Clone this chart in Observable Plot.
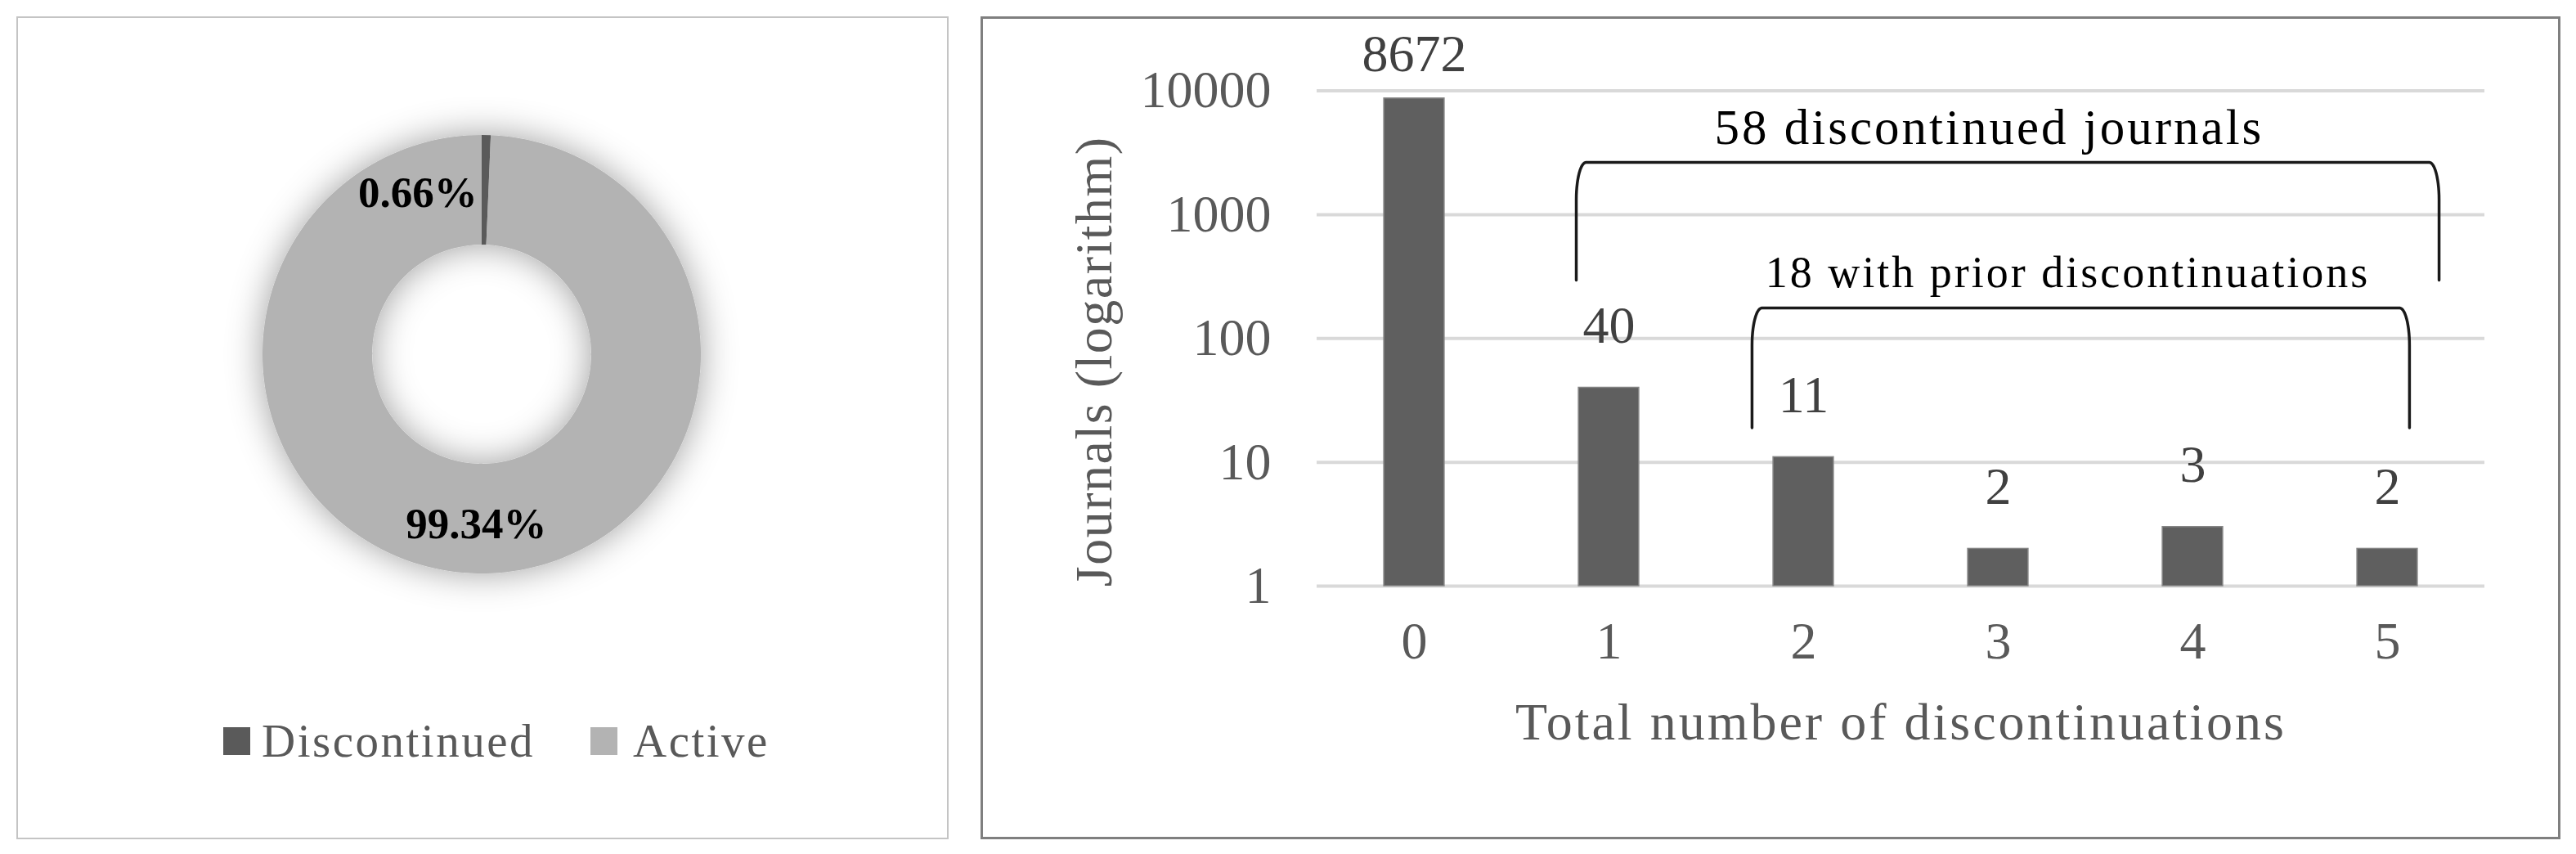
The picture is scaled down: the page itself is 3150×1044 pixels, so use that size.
<!DOCTYPE html>
<html>
<head>
<meta charset="utf-8">
<script src="https://cdn.jsdelivr.net/npm/d3@7"></script>
<script src="https://cdn.jsdelivr.net/npm/@observablehq/plot@0.6"></script>
<style>
  html, body { margin: 0; padding: 0; background: #fff; }
  body { width: 3150px; height: 1044px; position: relative; overflow: hidden;
         font-family: "Palatino Linotype", "Book Antiqua", Palatino, "Liberation Serif", serif; }
  .panel { position: absolute; box-sizing: border-box; }
  #leftPanel { left: 20px; top: 20px; width: 1140px; height: 1006px; border: 2px solid #c4c4c4; }
  #rightPanel { left: 1199px; top: 20px; width: 1932px; height: 1006px; border: 3px solid #7f7f7f; }
  .chart { position: absolute; }
  #donutChart { left: 20px; top: 22px; }
  #barChart { left: 1200px; top: 22px; }
  #legend { position: absolute; left: 273px; top: 877px; height: 57px; display: flex; align-items: center;
            font-size: 57px; line-height: 57px; color: #595959; letter-spacing: 2.5px; white-space: nowrap; }
  .sw { display: inline-block; width: 33px; height: 34px; }
</style>
</head>
<body>
<div id="leftPanel" class="panel"></div>
<div id="rightPanel" class="panel"></div>
<div id="donutChart" class="chart"></div>
<div id="barChart" class="chart"></div>
<div id="legend"></div>
<script>
// ---------- data ----------
const donutCategories = ["Discontinued", "Active"];
const donutShares = [0.66, 99.34];

const barCategories = [0, 1, 2, 3, 4, 5];
const barCounts = [8672, 40, 11, 2, 3, 2];
const yTicks = [1, 10, 100, 1000, 10000];

const bracketLabels = ["58 discontinued journals", "18 with prior discontinuations"];
const bracketFrom = [1, 2];
const bracketTo = [5, 5];

const xTitle = "Total number of discontinuations";
const yTitle = "Journals (logarithm)";

// ---------- styles / layout ----------
const FONT = '"Palatino Linotype","Book Antiqua",Palatino,"Liberation Serif",serif';
const donutColors = ["#5a5a5a", "#b3b3b3"];
const innerRatio = 0.5;
const barHalf = 0.155;
const bracketLayout = [
  {left: -0.168, right: 0.265, top: 2640, bottom: 296, textShift: -0.095, dy: -23, fontSize: 61},
  {left: -0.265, right: 0.113, top: 176, bottom: 19, textShift: -0.067, dy: -26, fontSize: 54}
];

// ---------- donut ----------
const donutTable = donutCategories.map((c, i) => ({category: c, share: donutShares[i]}));
const pie = d3.pie().sort(null).value(d => d.share)(donutTable);
const rMid = (1 + innerRatio) / 2;
const labelTable = pie.map((p, i) => {
  const a = (p.startAngle + p.endAngle) / 2;
  return {i, x: rMid * Math.sin(a), y: rMid * Math.cos(a), text: p.data.share.toFixed(2) + "%"};
});

function donutMark(index, scales) {
  const cx = scales.x(0), cy = scales.y(0), R = scales.x(1) - cx;
  const g = d3.create("svg:g");
  const f = g.append("defs").append("filter").attr("id", "ringGlow")
    .attr("x", "-40%").attr("y", "-40%").attr("width", "180%").attr("height", "180%");
  f.append("feGaussianBlur").attr("in", "SourceAlpha").attr("stdDeviation", 22).attr("result", "blur");
  f.append("feFlood").attr("flood-color", "#000").attr("flood-opacity", 0.38).attr("result", "col");
  f.append("feComposite").attr("in", "col").attr("in2", "blur").attr("operator", "in").attr("result", "shadow");
  const m = f.append("feMerge");
  m.append("feMergeNode").attr("in", "shadow");
  m.append("feMergeNode").attr("in", "SourceGraphic");
  const arc = d3.arc().innerRadius(R * innerRatio).outerRadius(R);
  g.append("g").attr("transform", `translate(${cx},${cy})`).attr("filter", "url(#ringGlow)")
    .selectAll("path").data(pie).join("path")
    .attr("d", arc).attr("fill", (d, i) => donutColors[i]);
  return g.node();
}

const donut = Plot.plot({
  width: 1138, height: 840,
  marginLeft: 301, marginRight: 301, marginTop: 143, marginBottom: 161,
  x: {domain: [-1, 1], axis: null},
  y: {domain: [-1, 1], axis: null},
  style: {fontFamily: FONT, background: "transparent", maxWidth: "none", overflow: "visible"},
  marks: [
    donutMark,
    Plot.text(labelTable, {filter: d => d.i === 0, x: "x", y: "y", text: "text", textAnchor: "end",
      dx: -10, dy: 3, fontSize: 53, fontWeight: "bold", fill: "#000"}),
    Plot.text(labelTable, {filter: d => d.i === 1, x: "x", y: "y", text: "text", textAnchor: "middle",
      dx: -3, dy: 7, fontSize: 53, fontWeight: "bold", fill: "#000"})
  ]
});
document.getElementById("donutChart").append(donut);

// legend
const legend = document.getElementById("legend");
donutCategories.forEach((c, i) => {
  const sw = document.createElement("span");
  sw.className = "sw";
  sw.style.background = donutColors[i];
  if (i > 0) sw.style.marginLeft = "68px";
  const t = document.createElement("span");
  t.textContent = c;
  t.style.marginLeft = i === 0 ? "14px" : "19px";
  legend.append(sw, t);
});

// ---------- bars ----------
const barTable = barCategories.map((k, i) => ({k, n: barCounts[i]}));

function bracketPoints(i) {
  const L = bracketLayout[i];
  const xl = bracketFrom[i] + L.left, xr = bracketTo[i] + L.right;
  const tl = Math.log10(L.top);
  const rx = 0.05, ry = 0.3, steps = 14;
  const pts = [{x: xl, y: L.bottom}];
  for (let k = 0; k <= steps; k++) {
    const th = Math.PI - (k / steps) * Math.PI / 2;
    pts.push({x: xl + rx + rx * Math.cos(th), y: 10 ** (tl - ry + ry * Math.sin(th))});
  }
  for (let k = 0; k <= steps; k++) {
    const th = Math.PI / 2 - (k / steps) * Math.PI / 2;
    pts.push({x: xr - rx + rx * Math.cos(th), y: 10 ** (tl - ry + ry * Math.sin(th))});
  }
  pts.push({x: xr, y: L.bottom});
  return pts.map(p => ({...p, b: i}));
}
const bracketData = bracketLabels.flatMap((_, i) => bracketPoints(i));

const bars = Plot.plot({
  width: 1926, height: 1000,
  marginLeft: 410, marginRight: 88, marginTop: 88.5, marginBottom: 306,
  x: {type: "linear", domain: [-0.5, 5.5], axis: null},
  y: {type: "log", domain: [1, 10000], axis: null},
  style: {fontFamily: FONT, fontSize: "64px", background: "transparent", maxWidth: "none", overflow: "visible"},
  marks: [
    Plot.gridY(yTicks, {stroke: "#d9d9d9", strokeWidth: 4, strokeOpacity: 1}),
    Plot.rect(barTable, {x1: d => d.k - barHalf, x2: d => d.k + barHalf, y1: 1, y2: "n",
      fill: "#5f5f5f", stroke: "#858585", strokeWidth: 1.5}),
    Plot.axisY(yTicks, {tickSize: 0, tickPadding: 56, tickFormat: d3.format("d"), fill: "#595959",
      fontSize: 64, label: null}),
    Plot.axisX(barCategories, {tickSize: 0, tickPadding: 43, tickFormat: d3.format("d"), fill: "#595959",
      fontSize: 64, label: null}),
    Plot.text(barTable, {filter: d => d.n >= 1000, x: "k", y: "n", text: d => String(d.n),
      dy: -33, lineAnchor: "bottom", fill: "#404040", fontSize: 64}),
    Plot.text(barTable, {filter: d => d.n < 1000, x: "k", y: "n", text: d => String(d.n),
      dy: -55, lineAnchor: "bottom", fill: "#404040", fontSize: 64}),
    Plot.line(bracketData, {x: "x", y: "y", z: "b", stroke: "#1a1a1a", strokeWidth: 3.5, curve: "linear"}),
    ...bracketLabels.map((lab, i) => {
      const L = bracketLayout[i];
      const xl = bracketFrom[i] + L.left, xr = bracketTo[i] + L.right;
      return Plot.text([lab], {x: (xl + xr) / 2 + L.textShift, y: L.top, text: d => d,
        dy: L.dy, lineAnchor: "bottom", fill: "#000", fontSize: L.fontSize});
    }),
    Plot.text([xTitle], {frameAnchor: "bottom", text: d => d, dy: 187, lineAnchor: "bottom",
      textAnchor: "middle", fill: "#595959", fontSize: 64}),
    Plot.text([yTitle], {frameAnchor: "left", text: d => d, dx: -272, dy: 28, rotate: -90,
      textAnchor: "middle", lineAnchor: "middle", fill: "#595959", fontSize: 64})
  ]
});
document.getElementById("barChart").append(bars);

// wider serif spacing for word labels (fallback font is narrower than Palatino)
d3.select(bars).selectAll("text").each(function () {
  if (/[a-z]/i.test(this.textContent)) {
    this.style.letterSpacing = this.textContent === yTitle ? "1.5px" : "3px";
  }
});
</script>
</body>
</html>
